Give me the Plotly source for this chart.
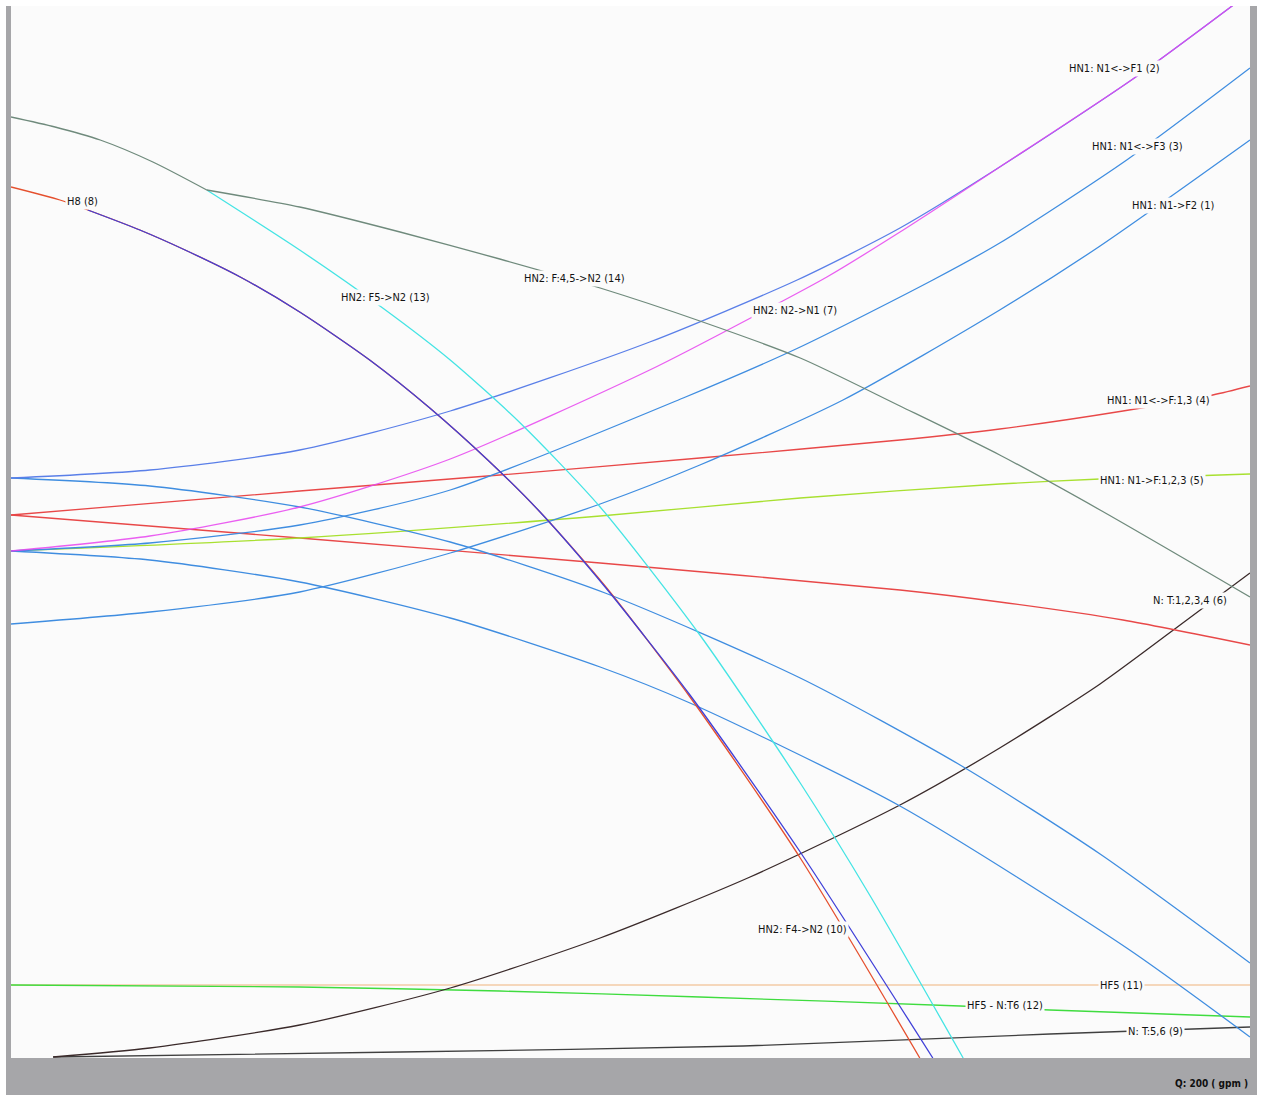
import plotly.graph_objects as go

# ---- data: flow Q (gpm) vs head ----
q_s2 = [0, 22.4, 46.6, 70.9, 103.1, 126.9, 143.5, 159.6, 181.1, 198.4]
h_s2 = [116, 117.6, 121.6, 129.4, 143.2, 155.6, 166, 178.2, 195.8, 211.6]

q_s7 = [0, 22.4, 46.6, 70.9, 103.1, 120.9, 131.7, 143.5, 159.6, 181.1, 198.4]
h_s7 = [101.4, 104.4, 110.2, 119.8, 137.6, 149, 156.2, 165.2, 178.2, 195.8, 211.6]

q_s3 = [0, 22.4, 46.6, 70.9, 108.5, 127.4, 148.8, 159.6, 180.1, 200]
h_s3 = [101.4, 103, 106.6, 113.6, 132, 142.2, 155.6, 163, 179.6, 198]

q_s1 = [0, 22.4, 46.6, 70.9, 95.1, 111.2, 134.3, 159.6, 175.8, 200]
h_s1 = [86.8, 89.2, 93.2, 101, 110.8, 118.6, 131.6, 149.6, 162.4, 183.6]

q_d1 = [0, 22.4, 46.6, 70.9, 95.9, 127.4, 153.2, 175.8, 200]
h_d1 = [116, 114.4, 110.2, 103.2, 93, 76, 58.6, 40.8, 19]

q_d2 = [0, 22.4, 46.6, 70.9, 95.1, 109.6, 143.5, 180.1, 200]
h_d2 = [101.4, 99.6, 95.2, 88, 78.2, 71, 50.4, 22, 4.2]

q_s4 = [0, 46.6, 78.9, 111.2, 143.5, 159.6, 179.5, 194.0, 200]
h_s4 = [108.6, 113.4, 116.6, 120, 123.6, 125.8, 129.4, 132.6, 134.4]

q_rd = [0, 46.6, 95.1, 143.5, 159.6, 179.5, 200]
h_rd = [108.6, 104, 99, 93.6, 91.2, 87.6, 82.6]

q_s5 = [0, 46.6, 95.1, 127.4, 159.6, 175.8, 200]
h_s5 = [101.4, 104, 108.4, 112, 114.8, 115.8, 116.8]

# (14) has a sharp bend at Q = 31.6 (index 4)
q_s14 = [0, 7.1, 14.4, 22.9, 31.6, 46.6, 62.8, 78.9, 95.1, 111.2, 127.4, 143.5, 159.6, 175.8, 200]
h_s14 = [188.2, 186.2, 183.6, 179.2, 173.6, 170.2, 165.2, 159.8, 154, 147.4, 140, 130.4, 120.6, 109.6, 92.2]
bend_14 = 4

q_s13 = [31.6, 46.6, 60.0, 70.9, 82.2, 95.1, 111.2, 127.4, 138.7, 153.7]
h_s13 = [173.6, 161.6, 150, 139.6, 127, 110.2, 84.6, 55, 32.4, 0]

q_s8 = [0, 7.9, 12.4, 20.8, 28.1, 37.0, 46.6, 57.9, 67.6, 77.3, 85.4, 95.9, 109.6, 127.4, 146.7]
h_s8 = [174.2, 171.6, 169.6, 165.6, 161.6, 156.2, 149.2, 139.6, 130, 119.2, 109.2, 94.4, 72.2, 40, 0]

q_s10 = [12.4, 20.8, 28.1, 37.0, 46.6, 57.9, 67.6, 77.3, 85.4, 95.9, 109.6, 127.4, 148.8]
h_s10 = [169.6, 165.6, 161.6, 156.2, 149.2, 139.6, 130, 119.2, 109.2, 94.2, 72.6, 41.2, 0]

q_s11 = [0, 200]
h_s11 = [14.6, 14.6]

q_s12 = [0, 46.6, 78.9, 111.2, 153.2, 167.7, 200]
h_s12 = [14.6, 14.2, 13.4, 12.2, 10.4, 9.6, 8.2]

q_s9 = [6.8, 62.8, 118.2, 167.7, 200]
h_s9 = [0.2, 1.2, 2.4, 4.8, 6.2]

q_s6 = [6.8, 22.4, 46.6, 70.9, 95.1, 119.3, 143.5, 159.6, 175.8, 189.8, 200]
h_s6 = [0.2, 2, 6.6, 14, 24, 36.2, 50.6, 62, 74.8, 87.6, 97]

# curve labels and where they sit (Q, head)
label_text = ["HN1: N1<->F1 (2)", "HN1: N1<->F3 (3)", "HN1: N1->F2 (1)", "H8 (8)",
              "HN2: F5->N2 (13)", "HN2: F:4,5->N2 (14)", "HN2: N2->N1 (7)",
              "HN1: N1<->F:1,3 (4)", "HN1: N1->F:1,2,3 (5)", "N: T:1,2,3,4 (6)",
              "HN2: F4->N2 (10)", "HF5 (11)", "HF5 - N:T6 (12)", "N: T:5,6 (9)"]
label_q = [178.2, 181.9, 187.6, 11.6, 60.4, 91.0, 126.6, 185.2, 184.2, 190.3, 127.7, 179.2, 160.4, 184.7]
label_h = [198, 182.4, 170.6, 171.4, 152.2, 156, 149.6, 131.6, 115.6, 91.6, 25.8, 14.6, 10.6, 5.4]

BLUE = "#3f8de0"
series = [
    ("HF5 (11)", q_s11, h_s11, "#f3cba6", 1.0),
    ("HF5 - N:T6 (12)", q_s12, h_s12, "#3fdc3f", 1.0),
    ("N: T:5,6 (9)", q_s9, h_s9, "#404040", 1.0),
    ("N: T:1,2,3,4 (6)", q_s6, h_s6, "#3a2a2a", 1.0),
    ("", q_rd, h_rd, "#e84848", 1.0),
    ("HN1: N1<->F:1,3 (4)", q_s4, h_s4, "#e84848", 1.0),
    ("HN1: N1->F:1,2,3 (5)", q_s5, h_s5, "#a8e030", 1.0),
    ("", q_d1, h_d1, BLUE, 1.0),
    ("", q_d2, h_d2, BLUE, 1.0),
    ("HN1: N1->F2 (1)", q_s1, h_s1, BLUE, 1.0),
    ("HN1: N1<->F3 (3)", q_s3, h_s3, BLUE, 1.0),
    ("HN1: N1<->F1 (2)", q_s2, h_s2, "#5a7fe8", 1.0),
    ("HN2: N2->N1 (7)", q_s7, h_s7, "#e844f0", 0.85),
    ("HN2: F5->N2 (13)", q_s13, h_s13, "#44e4e4", 1.0),
    ("HN2: F:4,5->N2 (14)", q_s14[:bend_14 + 1], h_s14[:bend_14 + 1], "#6f8a7c", 1.0),
    ("HN2: F:4,5->N2 (14)", q_s14[bend_14:], h_s14[bend_14:], "#6f8a7c", 1.0),
    ("H8 (8)", q_s8, h_s8, "#e5502e", 1.0),
    ("HN2: F4->N2 (10)", q_s10, h_s10, "#4040d8", 1.0),
]

fig = go.Figure()
for name, q, h, col, op in series:
    fig.add_trace(go.Scatter(x=q, y=h, mode="lines", name=name, opacity=op,
                             line=dict(color=col, width=1.3, shape="spline", smoothing=0.7),
                             hoverinfo="skip"))

FONT = "Liberation Sans Narrow, DejaVu Sans Condensed, sans-serif"
for t, q, h in zip(label_text, label_q, label_h):
    fig.add_annotation(x=q, y=h, text=t, showarrow=False, xref="x", yref="y",
                       font=dict(family=FONT, size=11, color="#141414"),
                       bgcolor="#fbfbfb", borderpad=1)

fig.add_annotation(x=1, y=-0.024, xref="paper", yref="paper", text="<b>Q: 200 ( gpm )</b>",
                   showarrow=False, xanchor="right", yanchor="middle",
                   font=dict(family=FONT, size=10, color="#101010"))

W, H = 1266, 1095
ml, mr, mt, mb = 11, 16, 6, 37
pw, ph = W - ml - mr, H - mt - mb
gray = "#a6a6a9"
fig.add_shape(type="rect", xref="paper", yref="paper", x0=-5 / pw, x1=0, y0=-mb / ph, y1=1,
              fillcolor=gray, line_width=0, layer="below")
fig.add_shape(type="rect", xref="paper", yref="paper", x0=1, x1=1 + 7 / pw, y0=-mb / ph, y1=1,
              fillcolor=gray, line_width=0, layer="below")
fig.add_shape(type="rect", xref="paper", yref="paper", x0=-5 / pw, x1=1 + 7 / pw, y0=-mb / ph, y1=0,
              fillcolor=gray, line_width=0, layer="below")

fig.update_layout(
    width=W, height=H,
    margin=dict(l=ml, r=mr, t=mt, b=mb, pad=0),
    paper_bgcolor="#ffffff",
    plot_bgcolor="#fbfbfb",
    showlegend=False,
    xaxis=dict(range=[0, 200], showgrid=False, zeroline=False, showticklabels=False,
               showline=False, ticks=""),
    yaxis=dict(range=[0, 210.4], showgrid=False, zeroline=False, showticklabels=False,
               showline=False, ticks=""),
)

fig.write_html("out.html", config={"displayModeBar": False})
